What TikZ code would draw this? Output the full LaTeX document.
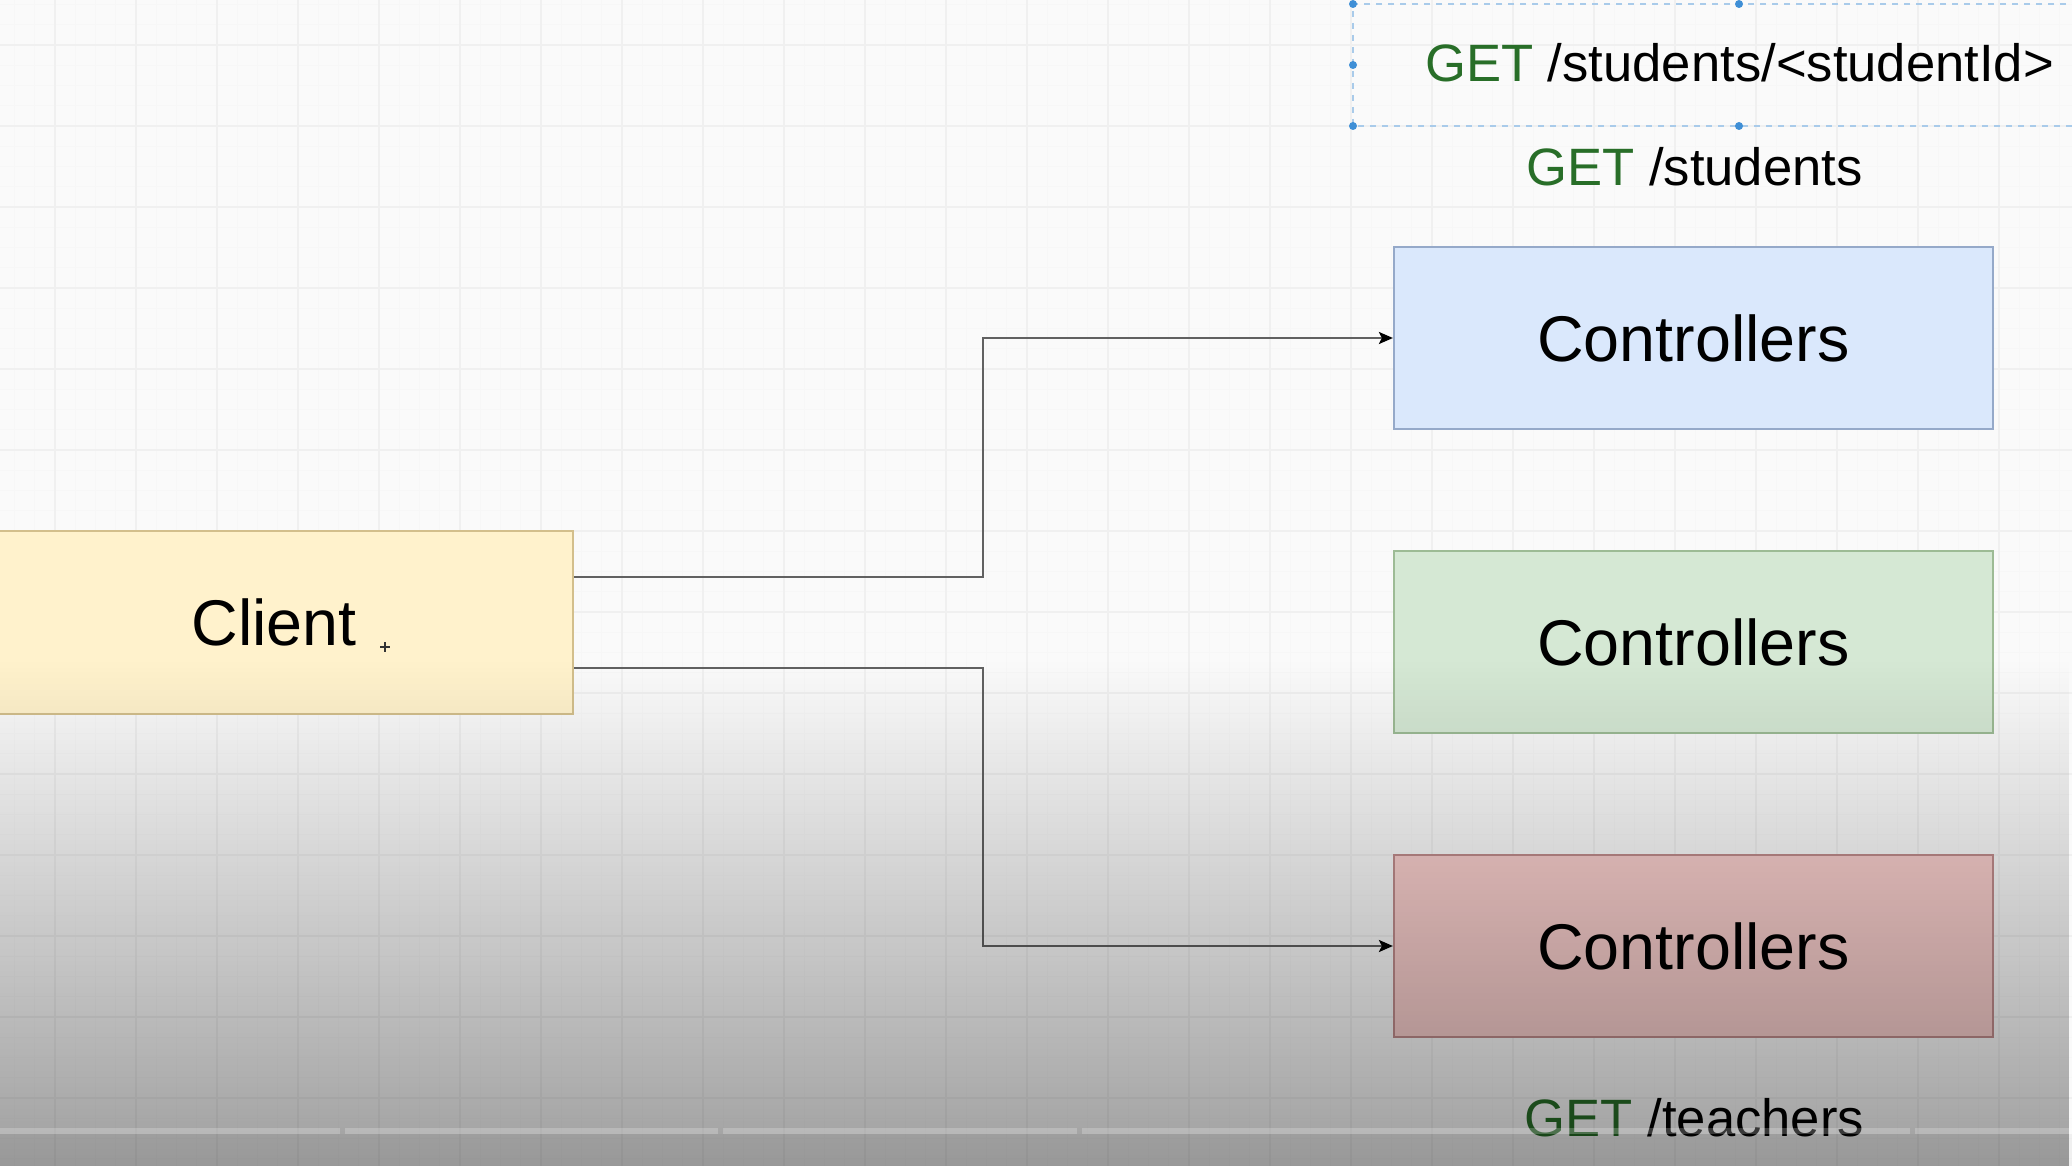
\documentclass[tikz,border=0pt]{standalone}
\usepackage{fontspec}
\setmainfont{Liberation Sans}
\usetikzlibrary{arrows.meta,fadings,calc}
\definecolor{getgreen}{RGB}{40,110,40}
\definecolor{bluefill}{HTML}{DAE8FC}\definecolor{bluedraw}{HTML}{95A9C9}
\definecolor{greenfill}{HTML}{D5E8D4}\definecolor{greendraw}{HTML}{9DBB95}
\definecolor{redfill}{HTML}{F8CECC}\definecolor{reddraw}{HTML}{C08C8C}
\definecolor{yelfill}{HTML}{FFF2CC}\definecolor{yeldraw}{HTML}{D3BF8C}
\definecolor{selblue}{HTML}{A9CBEA}\definecolor{handleblue}{HTML}{3F8FD6}
\tikzfading[name=darkdown, top color=transparent!100, middle color=transparent!62, bottom color=transparent!0]
\tikzset{
  box/.style={rectangle, line width=1.1pt, minimum width=299.5pt, minimum height=91pt,
    inner sep=0pt, font=\fontsize{32.3}{38}\selectfont},
  getlabel/.style={inner sep=0pt, font=\fontsize{26.3}{32}\selectfont},
  conn/.style={line width=1.1pt, draw=black!62, -{Stealth[length=7pt,width=6pt,inset=1.5pt,black]}},
  minorgrid/.style={draw=black!3, line width=0.5pt},
  majorgrid/.style={draw=black!6, line width=0.7pt},
  selline/.style={draw=selblue, line width=0.8pt, dashed},
  handle/.style={circle, fill=handleblue, inner sep=0pt, minimum size=4pt}
}
\begin{document}
\begin{tikzpicture}[x=0.5pt,y=-0.5pt]
\useasboundingbox (0,0) rectangle (2072,1166);
\clip (0,0) rectangle (2072,1166);
\fill[white!98!black] (0,0) rectangle (2072,1166);
% grid
\foreach \i in {-3,...,101} { \draw[minorgrid] ({55+20.25*\i},0) -- ({55+20.25*\i},1166); }
\foreach \i in {-3,...,57} { \draw[minorgrid] (0,{45+20.25*\i}) -- (2072,{45+20.25*\i}); }
\foreach \i in {-1,...,25} { \draw[majorgrid] ({55+81*\i},0) -- ({55+81*\i},1166); }
\foreach \i in {-1,...,14} { \draw[majorgrid] (0,{45+81*\i}) -- (2072,{45+81*\i}); }

% selection box around the top label
\coordinate (sTL) at (1353,4);
\coordinate (sBL) at (1353,126);
\coordinate (sTR) at (2090,4);
\coordinate (sBR) at (2090,126);
\draw[selline] (sTR) -- (sTL) -- (sBL) -- (sBR);
\node[handle] (h1) at (1353,4) {};
\node[handle] (h2) at (1739,4) {};
\node[handle] (h3) at (1353,65) {};
\node[handle] (h4) at (1353,126) {};
\node[handle] (h5) at (1739,126) {};

% labels
\node[getlabel] (lid) at (1739.5,63) {\textcolor{getgreen}{GET} /students/<studentId>};
\node[getlabel] (lst) at (1694.5,167) {\textcolor{getgreen}{GET} /students};
\node[getlabel] (lte) at (1694.5,1118) {\textcolor{getgreen}{GET} /teachers};

% boxes
\node[box, fill=yelfill, draw=yeldraw, minimum width=299pt, minimum height=91.5pt] (client) at (274,622.5) {Client};
\node[box, fill=bluefill, draw=bluedraw] (c1) at (1693.5,338) {Controllers};
\node[box, fill=greenfill, draw=greendraw] (c2) at (1693.5,642) {Controllers};
\node[box, fill=redfill, draw=reddraw] (c3) at (1693.5,946) {Controllers};

% cursor
\coordinate (cur) at (385,647);
\draw[black!80, line width=0.6pt] ($(cur)+(-5,0)$) -- ($(cur)+(5,0)$) ($(cur)+(0,-5)$) -- ($(cur)+(0,5)$);

% connectors
\draw[conn] ([yshift=22.9pt]client.east) -| (983,338) -- (c1.west);
\draw[conn] ([yshift=-22.9pt]client.east) -| (983,946) -- (c3.west);

% darkening overlay
\fill[black, opacity=0.36, path fading=darkdown] (0,660) rectangle (2072,1166);
\foreach \a/\b in {0/340,345/718,723/1077,1082/1910,1915/2072} {
  \fill[white, opacity=0.22] (\a,1128) rectangle (\b,1134);
}
\fill[black, opacity=0.04] (0,1134) rectangle (2072,1166);
\end{tikzpicture}
\end{document}
